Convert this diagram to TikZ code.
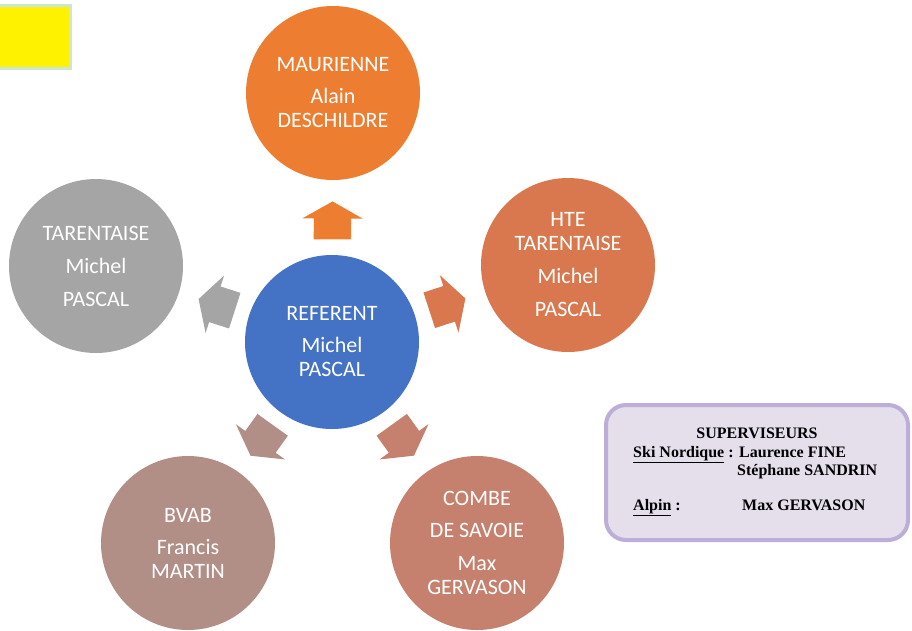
\documentclass[tikz,border=0pt]{standalone}
\usepackage{fontspec}
\setmainfont{Carlito}
\newfontfamily\supfont{Liberation Serif}
\usetikzlibrary{shapes.arrows}

\definecolor{maurcol}{HTML}{ED7D31}
\definecolor{htecol}{HTML}{D9784F}
\definecolor{tarcol}{HTML}{A5A5A5}
\definecolor{refcol}{HTML}{4472C4}
\definecolor{bvabcol}{HTML}{B18F87}
\definecolor{combecol}{HTML}{C5806E}
\definecolor{supfill}{HTML}{E5DFEC}
\definecolor{supedge}{HTML}{BCAED8}
\definecolor{yellowedge}{HTML}{CDE6CF}

\begin{document}
\begin{tikzpicture}[x=1pt,y=-1pt,
  zone/.style={circle,minimum size=174pt,inner sep=0pt,text=white,align=center,
    font=\fontsize{22}{24}\selectfont},
  blockarrow/.style={single arrow,draw=none,minimum height=38pt,inner xsep=0pt,
    inner ysep=18.5pt,single arrow head extend=11.5pt,single arrow tip angle=121,
    sloped,allow upside down,pos=0.39},
  suptext/.style={anchor=base west,inner sep=0pt,
    font=\supfont\bfseries\fontsize{16}{18}\selectfont}]

\useasboundingbox (0,0) rectangle (912,630);

% the yellow square in the corner
\draw[line width=3pt,draw=yellowedge,fill=yellow] (-3,5.5) rectangle (70.5,68.5);

% draw the circles
\node[zone,fill=refcol]   (ref)   at (332,342) {REFERENT\\[8pt]Michel\\PASCAL};
\node[zone,fill=maurcol]  (maur)  at (333,93)  {MAURIENNE\\[8pt]Alain\\DESCHILDRE};
\node[zone,fill=htecol]   (hte)   at (568,265) {HTE\\TARENTAISE\\[9pt]Michel\\[9pt]PASCAL};
\node[zone,fill=tarcol]   (tar)   at (96,266)  {TARENTAISE\\[9pt]Michel\\[9pt]PASCAL};
\node[zone,fill=bvabcol]  (bvab)  at (188,543) {BVAB\\[8pt]Francis\\MARTIN};
\node[zone,fill=combecol] (combe) at (477,543) {COMBE\\[8pt]DE SAVOIE\\[9pt]Max\\GERVASON};

% the block arrows
\path (ref) -- (maur)  node[blockarrow,fill=maurcol] {};
\path (ref) -- (hte)   node[blockarrow,fill=htecol] {};
\path (ref) -- (tar)   node[blockarrow,fill=tarcol] {};
\path (ref) -- (bvab)  node[blockarrow,fill=bvabcol] {};
\path (ref) -- (combe) node[blockarrow,fill=combecol] {};

% supervisors box
\node[draw=supedge,fill=supfill,line width=4pt,rounded corners=20pt,
      minimum width=302pt,minimum height=135pt] (sup) at (757,472.5) {};
\node[suptext,anchor=base] (title) at (757,438) {SUPERVISEURS};
\node[suptext] (nordic)  at (633,457) {\underline{Ski Nordique}\hspace{4pt}:};
\node[suptext] (fine)    at (739,457) {Laurence FINE};
\node[suptext] (sandrin) at (737,475) {Stéphane SANDRIN};
\node[suptext] (alpin)   at (633,510) {\underline{Alpin} :};
\node[suptext] (gerv)    at (742,510) {Max GERVASON};
\end{tikzpicture}
\end{document}
